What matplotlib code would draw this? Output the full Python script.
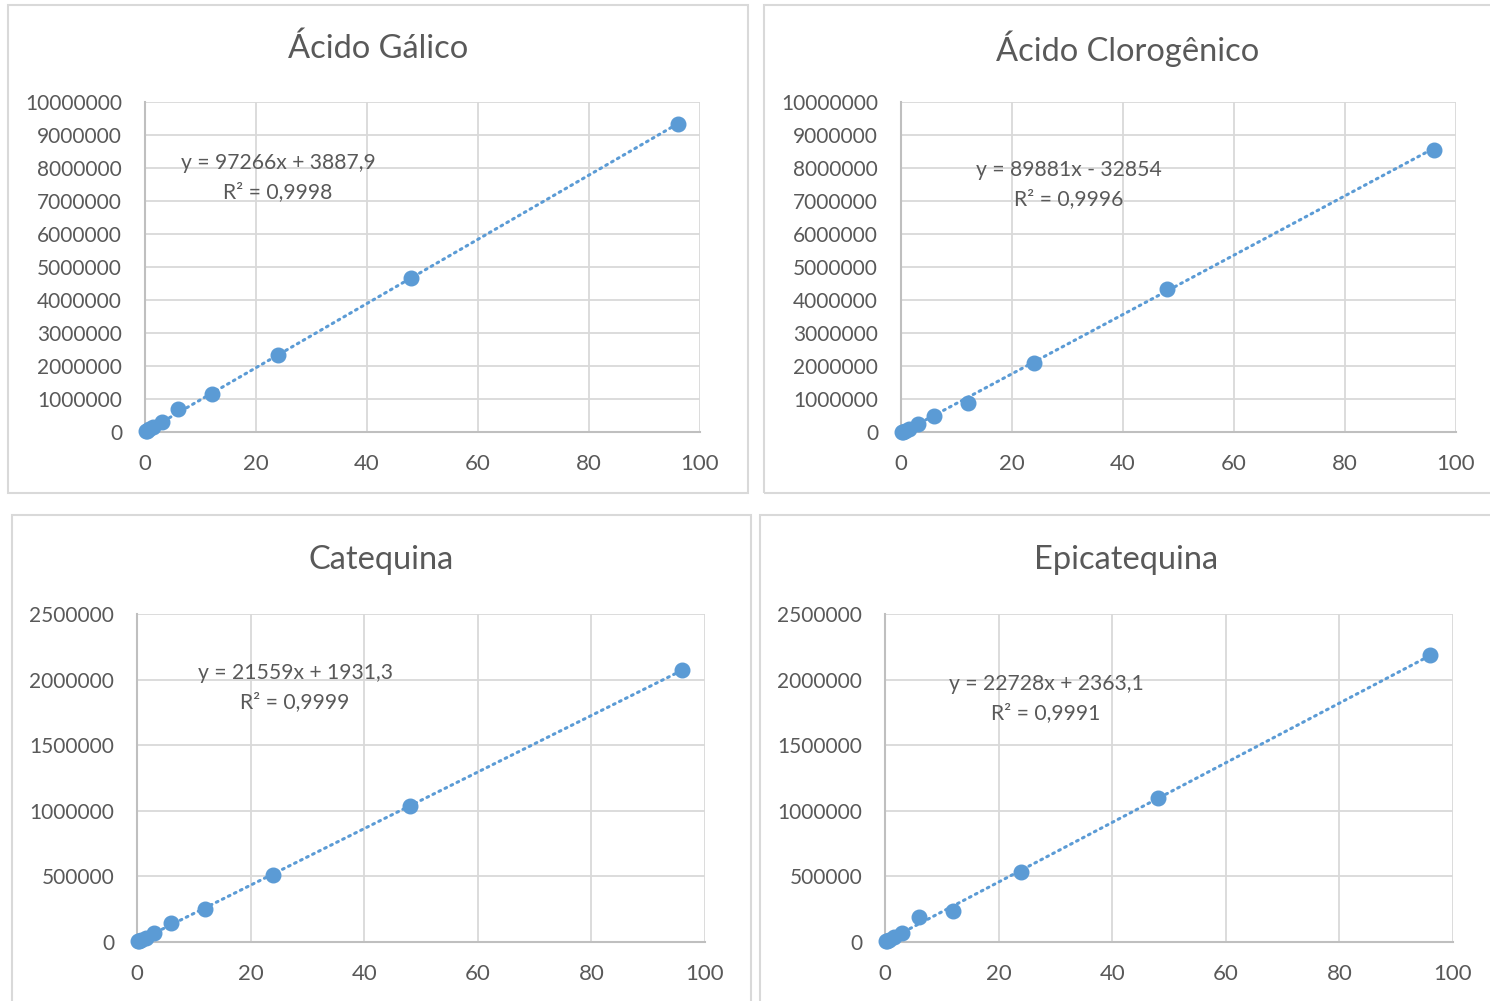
import matplotlib.pyplot as plt
from matplotlib.patches import Rectangle
from matplotlib.ticker import FuncFormatter

plt.rcParams['font.family'] = ['Lato', 'DejaVu Sans']

# concentrações (eixo x) e áreas dos picos para cada padrão
conc = [0.1875, 0.375, 0.75, 1.5, 3, 6, 12, 24, 48, 96]

area_galico = [22000, 40000, 78000, 150000, 290000, 690000, 1140000, 2340000, 4670000, 9320000]
area_clorogenico = [5000, 15000, 45000, 100000, 250000, 480000, 890000, 2090000, 4330000, 8560000]
area_catequina = [4000, 8000, 17000, 33000, 66000, 142000, 250000, 511000, 1037000, 2073000]
area_epicatequina = [4000, 9000, 18000, 35000, 66000, 188000, 237000, 534000, 1100000, 2187000]

# coeficientes das retas de tendência (a, b, R²)
fit_galico = (97266, 3887.9, "y = 97266x + 3887,9", "R² = 0,9998")
fit_clorogenico = (89881, -32854, "y = 89881x - 32854", "R² = 0,9996")
fit_catequina = (21559, 1931.3, "y = 21559x + 1931,3", "R² = 0,9999")
fit_epicatequina = (22728, 2363.1, "y = 22728x + 2363,1", "R² = 0,9991")

W, H = 1490, 1001
AZUL = '#5b9bd5'
CINZA = '#595959'
GRADE = '#d9d9d9'

fig = plt.figure(figsize=(W / 100, H / 100), dpi=100)


def px_box(x0, y0, x1, y1):
    """Converte caixa em pixels (topo-esquerda) para coordenadas da figura."""
    return [x0 / W, 1 - y1 / H, (x1 - x0) / W, (y1 - y0) / H]


def painel(borda, eixos, titulo, area, fit, ymax, ystep, eq_pos, y_titulo):
    bx = px_box(*borda)
    fig.patches.append(Rectangle((bx[0], bx[1]), bx[2], bx[3], transform=fig.transFigure,
                                 fill=False, edgecolor=GRADE, linewidth=1.5))
    ax = fig.add_axes(px_box(*eixos))

    a, b, eq, r2 = fit
    xs = [min(conc), max(conc)]
    ax.plot(xs, [a * x + b for x in xs], linestyle=(0, (0.6, 1.6)), color=AZUL,
            linewidth=2.2, dash_capstyle='round', zorder=2)
    ax.plot(conc, area, 'o', color=AZUL, markersize=10.5, zorder=3, clip_on=False)

    ax.set_xlim(0, 100)
    ax.set_ylim(0, ymax)
    ax.set_xticks(range(0, 101, 20))
    ax.set_yticks(range(0, ymax + 1, ystep))
    ax.yaxis.set_major_formatter(FuncFormatter(lambda v, p: f"{int(round(v))}"))
    ax.grid(True, color=GRADE, linewidth=1.3)
    ax.set_axisbelow(True)
    for s in ['top', 'right']:
        ax.spines[s].set_visible(False)
    for s in ['left', 'bottom']:
        ax.spines[s].set_color('#bfbfbf')
        ax.spines[s].set_linewidth(1.5)
    ax.tick_params(axis='x', length=0, labelsize=16, labelcolor=CINZA, pad=16)
    ax.tick_params(axis='y', length=0, labelsize=15, labelcolor=CINZA, pad=16.5)

    cx = (borda[0] + borda[2]) / 2
    fig.text(cx / W, 1 - y_titulo / H, titulo, ha='center', va='center', fontsize=23.5, color=CINZA)
    ex, ey = eq_pos
    fig.text(ex / W, 1 - ey / H, eq, ha='center', va='center', fontsize=15.2, color=CINZA)
    fig.text(ex / W, 1 - (ey + 29) / H, r2, ha='center', va='center', fontsize=15.2, color=CINZA)
    return ax


painel((8, 5, 748, 493), (145, 102, 700, 432), "Ácido Gálico",
       area_galico, fit_galico, 10000000, 1000000, (278, 163), 49)
painel((764, 5, 1492, 493), (901, 102, 1456, 432), "Ácido Clorogênico",
       area_clorogenico, fit_clorogenico, 10000000, 1000000, (1069, 170), 49)
painel((12, 515, 751, 1003), (137, 614, 705, 942), "Catequina",
       area_catequina, fit_catequina, 2500000, 500000, (295, 673), 560)
painel((760, 515, 1492, 1003), (885, 614, 1453, 942), "Epicatequina",
       area_epicatequina, fit_epicatequina, 2500000, 500000, (1046, 684), 560)

fig.savefig('out.png', dpi=100, facecolor='white')
